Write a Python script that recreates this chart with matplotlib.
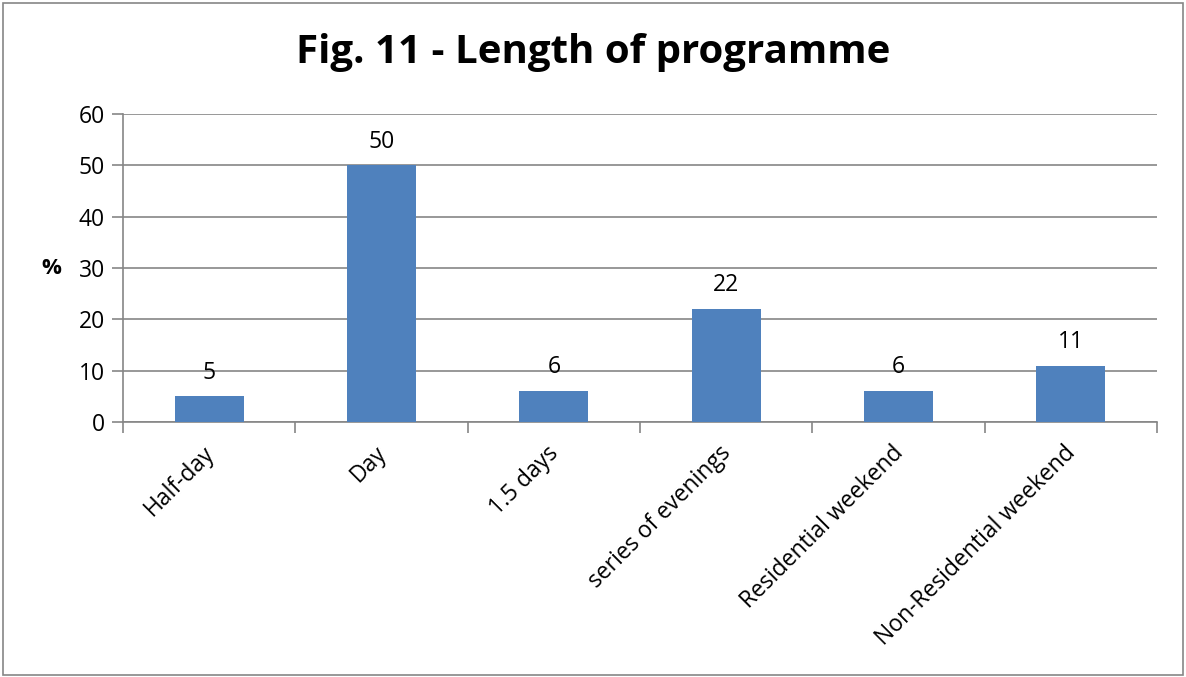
import matplotlib
matplotlib.use("Agg")
import matplotlib.pyplot as plt
from matplotlib.patches import Rectangle

categories = ["Half-day", "Day", "1.5 days", "series of evenings",
              "Residential weekend", "Non-Residential weekend"]
values = [5, 50, 6, 22, 6, 11]
yticks = [0, 10, 20, 30, 40, 50, 60]
title = "Fig. 11 - Length of programme"

plt.rcParams["font.family"] = ["Open Sans", "DejaVu Sans"]

fig = plt.figure(figsize=(11.86, 6.77), dpi=100)
ax = fig.add_axes([123 / 1186, 1 - 422 / 677, (1157 - 123) / 1186, (422 - 114) / 677])

bar_color = "#4F81BD"
grid_color = "#868686"
x = list(range(len(categories)))
ax.bar(x, values, width=0.4, color=bar_color, zorder=3)
for xi, v in zip(x, values):
    ax.text(xi, v + 2.3, f"{v}", ha="center", va="bottom", fontsize=16.5, color="black", zorder=4)

ax.set_xlim(-0.5, len(categories) - 0.5)
ax.set_ylim(0, 60)
ax.set_yticks(yticks)
ax.set_yticklabels([str(t) for t in yticks], fontsize=16.5)
ax.yaxis.grid(True, color=grid_color, linewidth=1.2, zorder=0)
ax.tick_params(axis="y", length=8, width=1.2, color=grid_color, pad=5)

# category boundaries carry the tick marks; labels sit at the centres
ax.set_xticks([i - 0.5 for i in range(len(categories) + 1)])
ax.set_xticklabels([])
ax.tick_params(axis="x", length=8, width=1.2, color=grid_color)
for xi, lab in zip(x, categories):
    ax.annotate(lab, xy=(xi, 0), xycoords=("data", "axes fraction"),
                xytext=(1, -20), textcoords="offset points",
                rotation=45, rotation_mode="anchor", ha="right", va="center",
                fontsize=16.5)

for side in ("top", "right"):
    ax.spines[side].set_visible(False)
for side in ("left", "bottom"):
    ax.spines[side].set_color(grid_color)
    ax.spines[side].set_linewidth(1.2)

ax.set_ylabel("%", rotation=0, fontsize=16, fontweight="bold", labelpad=20, va="center")

fig.text(0.5, 1 - 52 / 677, title, ha="center", va="center", fontsize=29, fontweight="bold")

fig.patches.append(Rectangle((3 / 1186, 2 / 677), 1180 / 1186, 672 / 677,
                             transform=fig.transFigure, fill=False,
                             edgecolor="#868686", linewidth=1.2))

fig.savefig("out.png", dpi=100)
